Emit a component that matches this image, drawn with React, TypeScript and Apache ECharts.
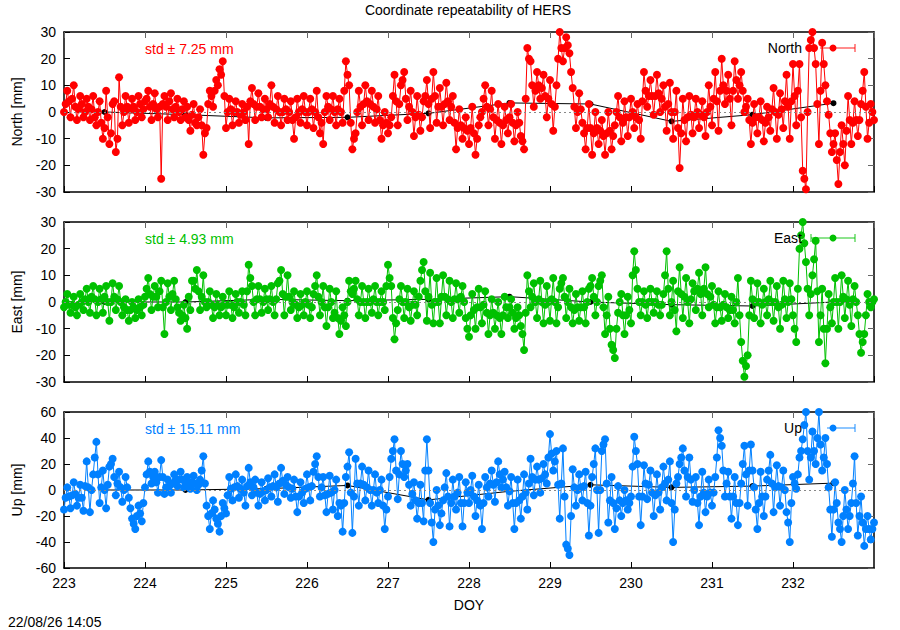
import React, { useEffect, useRef } from "react";
import * as echarts from "echarts";

// Sampling of the series: main samples every STEP_DAYS from START_DOY,
// intermediate samples ("...Mid") half a step later
const START_DOY = 223;
const STEP_DAYS = 0.04;

// North residuals [mm], 25 samples per day (DOY 223 .. 232) + DOY 233.0
const north: number[] = [
  0, 8, -2, 10, -3, 6, -2, 5, -3, 6, -5, 4, -10, 8, -12, 3, -15, 13, -5, 6, -4, 5, -3, 6, -2,
  4, 8, -3, 7, -2, -25, 6, -3, 7, -2, 5, -3, 4, 2, -7, 3, -5, 1, -16, -6, 8, 2, 12, 16, 19,
  -6, 5, -5, 4, -4, 3, -3, -12, 9, -3, 7, -2, 5, -2, 10, -4, 6, -5, 5, -3, 4, -10, 5, -4, 6,
  -5, 5, -6, 8, -8, -12, 6, -3, 6, -5, 5, -4, 19, 10, -14, -8, 8, -5, 10, -3, 8, -4, 6, -10, 0,
  -8, -2, 14, -5, 10, 15, -3, 8, -9, 6, -7, 4, 12, -6, 15, -4, 9, -5, 11, -3, 6, -14, 1, -10, -2,
  -12, 2, -16, -5, 0, 10, -5, 8, -10, 3, -12, 2, -8, 3, -11, 0, -9, -14, 24, 19, 2, 15, 5, 14, -2,
  12, -7, 10, 30, 19, 28, 22, 9, -6, 7, -4, -14, 3, -16, 0, -12, -3, -16, 0, -14, -5, 6, -11, 4, -9,
  5, -6, 3, -10, 15, 2, 12, -1, 14, 0, 10, -7, 11, -10, 8, -21, 5, -11, 6, -8, 5, -6, 4, -9, 10,
  -5, 15, -7, 20, 3, 14, -5, 19, 5, 15, 0, 5, -12, 3, -8, 4, -11, 2, -7, 9, -10, 7, -6, 14, -10,
  18, -5, 18, -22, -29, 24, 30, 18, -12, 26, 10, -1, -15, -8, -27, -5, -20, 6, -12, 4, -9, 3, 15, -10, 3,
  -3,
];
const northMid: number[] = [
  3, 4, 5, 2, 1, 3, 0, 2, 1, -2, 0, -4, -6, -2, -8, 4, -10, 2, 0, 2, 1, 2, 0, 3, 1,
  5, 2, 3, 1, 2, 3, 2, 4, 1, 2, 0, 1, -2, -3, -1, -4, -2, -5, -8, 3, 6, 8, 10, 14, 6,
  0, 1, 0, 0, -1, 0, 2, 4, 3, 2, 2, 1, 1, 3, 2, 1, 0, 0, 1, 0, -3, -2, 0, 1, 0,
  0, 1, 0, -2, -4, 0, 2, 1, 0, 1, 0, 8, 14, -4, -10, 0, 2, 3, 4, 3, 2, 1, -3, -5, -4,
  -5, 6, 4, 3, 12, 5, 2, 0, -2, -1, -2, 6, 3, 5, 6, 2, 2, 3, 4, 2, -4, -6, -5, -6, -7,
  -6, -8, -10, -2, 5, 2, 1, -2, -3, -4, -5, -3, -2, -4, -5, -4, -11, 5, 20, 10, 8, 10, 9, 6, 5,
  3, 2, 20, 24, 24, 25, 15, 2, 0, 1, -8, -6, -6, -8, -6, -7, -9, -8, -7, -9, 0, -2, -4, -2, -2,
  0, -2, -3, 4, 8, 6, 6, 6, 7, 5, 2, 3, 0, 0, -6, -8, -3, -2, -1, -2, 0, -1, -2, 0, 2,
  5, 4, 8, 10, 8, 5, 8, 12, 10, 8, 2, -3, -4, -2, -2, -3, -4, -2, 1, 0, -1, 1, 4, 2, 4,
  6, 8, -2, -25, 0, 27, 24, 3, 8, 18, 4, -8, -12, -18, -15, -12, -7, -3, -4, -3, -3, 8, 2, -4, 0,
];

// East residuals [mm]
const east: number[] = [
  -2, 3, -4, 2, -5, 3, -3, 5, -4, 6, -5, 5, -4, 6, -7, 7, -3, 6, -5, 1, -7, 0, -6, 1, -5,
  2, 9, -3, 6, -2, 8, -12, 7, -3, 8, -2, -7, -1, -10, -3, 8, 12, -3, 10, -2, 4, -6, 3, -5, 2,
  -5, 4, -6, 3, -4, 4, -5, 14, 6, -5, 6, -4, 5, -3, 6, -5, 7, 12, -5, 10, -3, 4, -6, 3, -5,
  4, -6, 3, 10, -5, 6, -9, 5, -6, 4, -12, -2, -9, 8, 3, 8, -5, 6, -6, 5, -4, 6, -5, 4, -3,
  14, 6, -14, -3, 6, -6, 5, -7, 4, -5, 8, 15, -7, 11, -8, 9, -8, 10, -5, 8, -6, 7, -4, 6, -6,
  -13, 3, -10, 5, -8, 4, -12, 1, -10, 0, -12, 2, -6, 1, -10, -2, -9, -18, 10, -2, 7, -6, 8, -8, 6,
  -7, 9, -8, 5, 9, -6, 5, -8, 3, -7, 4, -8, 5, 9, -5, 6, 10, -12, 2, -16, -21, -4, 3, -12, 2,
  -8, 19, 5, -5, 4, -6, 5, -4, 4, -5, 3, 19, -5, 8, -11, 13, -6, 9, -8, 7, -3, 11, -5, 13, -2,
  6, -8, 4, -7, 3, -6, 2, -8, 9, -15, -28, -20, 8, -6, 7, -8, 5, -5, 8, -7, 6, -10, 8, -6, 7,
  -5, -15, 20, 30, 15, -5, 10, 23, -15, 5, -23, 3, -8, 9, -10, 10, -6, 8, -9, 6, -5, -19, -12, 3, -2,
  1,
];
const eastMid: number[] = [
  0, -1, -1, -2, -1, 0, 1, 0, 2, 1, 0, 1, 2, 0, 0, 2, 1, 0, -2, -3, -3, -2, -3, -2, -1,
  5, 3, 2, 2, 4, -2, 0, 2, 3, 1, -4, -5, -6, 2, 8, 5, 4, 2, 0, 0, -1, -2, -1, -2, -1,
  -1, -1, -2, 0, 0, -1, 4, 9, 0, 1, 1, 0, 1, 1, 0, 1, 8, 3, 2, 2, 0, -1, -2, -1, 0,
  -1, -2, 6, 2, 0, -2, -2, 0, -4, -6, -7, -5, 0, 4, 5, 1, 0, 0, 0, 0, 1, 0, 0, 0, 6,
  9, -6, -8, 1, 0, 0, -2, -1, -1, 2, 12, 4, 2, -1, 0, 0, 2, 2, 1, 0, 1, 1, 2, 0, -10,
  -5, -3, -2, -2, -1, -4, -5, -4, -5, -6, -5, -2, -2, -4, -6, -5, -12, -4, 4, 2, 0, 1, 0, -1, 0,
  1, 0, -2, 7, 2, 0, -2, -3, -2, -2, -2, 0, 6, 2, 0, 8, -2, -5, -10, -18, -10, 0, -5, -5, -3,
  10, 12, 0, 0, -1, 0, 0, 0, -1, -1, 10, 5, 0, -3, 4, 3, 2, 0, 1, 4, 5, 3, 5, 3, 2,
  -1, -2, -2, -1, -2, -3, -3, 0, -5, -22, -24, -5, 1, 0, 0, -1, 0, 1, 0, 0, -2, -1, 1, 0, 1,
  -10, 5, 25, 22, 5, 3, 16, 4, -5, -10, -10, -2, 0, 0, 0, 2, 1, -1, 1, 0, -12, -15, -5, 0, 0,
];

// Up residuals [mm]
const up: number[] = [
  -15, 2, -14, 6, -12, 4, -16, 22, -17, 12, 37, -10, 15, -14, 18, 24, -4, 14, -9, 10, -6, -22, -30, -12, -24,
  2, 22, 5, 14, -2, 23, -3, 8, -2, 12, 3, 14, 2, 10, 1, 11, 0, 8, 26, -12, -30, -8, -22, -32, -10,
  -18, 10, -8, 12, -6, 8, -12, 17, -4, 8, -12, 6, -8, 9, -5, 12, -9, 17, -3, 10, -6, 8, -17, 6, -10,
  12, -8, 14, 26, -5, 10, -17, 11, -15, 8, -10, -32, 10, 29, -33, 24, -12, 18, -8, 15, -12, 12, -10, 8, -30,
  -5, 24, 39, -7, 30, 10, 20, -12, 6, -22, 4, -24, 39, -10, -40, 0, -27, -8, 13, -28, 8, -15, 10, -28, 6,
  -10, 11, -20, 4, -30, 10, -5, 15, -9, 22, 2, 14, -12, 10, -30, 8, -22, 12, -15, 24, -4, 18, -2, 20, 5,
  43, 15, 30, -22, 32, -42, -50, 16, -12, 12, -8, 14, -35, 10, 32, -33, 30, 39, -25, 10, -30, 3, -20, 0, -15,
  -5, 41, 20, -27, 19, -7, 15, -20, 12, -15, 18, -8, 22, -40, 5, 20, 32, -5, 25, -9, 10, -27, 14, -17, 8,
  -12, 10, 46, 34, -5, 14, -22, 10, -27, 5, 34, -12, 35, 2, -30, 14, -20, 8, 27, -17, 19, -12, 15, -17, -40,
  10, 1, 25, 39, 60, 8, 45, 20, 60, 15, 40, 2, -36, 6, -25, -40, 0, -30, -10, 26, -35, -5, -43, -20, -38,
  -25,
];
const upMid: number[] = [
  -6, -5, -4, -3, -6, -6, 3, 2, 0, 25, 12, 2, 0, 4, 20, 10, 5, 2, 0, 2, -14, -26, -20, -18, -10,
  12, 14, 10, 6, 10, 10, 2, 3, 5, 8, 8, 8, 6, 5, 6, 5, 4, 15, 5, -20, -18, -15, -26, -20, -14,
  -4, 1, 2, 3, 1, -2, 3, 6, 2, -2, -3, -1, 0, 2, 3, 2, 5, 7, 4, 2, 1, -5, -5, -2, 1,
  2, 3, 20, 10, 2, -4, -3, -2, 0, -20, -12, -10, 18, -2, -5, 5, 5, 4, 2, 0, 0, -2, 0, -12, -15,
  10, 30, 15, 12, 20, 15, 4, -3, -8, -10, -10, 15, 15, -25, -15, -12, -18, 2, -5, -10, -5, -2, -10, -10, -2,
  0, -5, -8, -12, -10, 2, 5, 4, 6, 12, 8, 2, -1, -10, -10, -8, -5, -2, 5, 10, 8, 8, 9, 12, 25,
  28, 22, 4, 5, -5, -45, -20, 2, 0, 2, 3, -10, -12, 20, 0, 0, 35, 5, -8, -10, -14, -8, -10, -8, -10,
  18, 30, -5, -5, 5, 4, -2, -4, -2, 2, 5, 8, -10, -15, 10, 25, 15, 10, 8, 0, -10, -5, -2, -5, -2,
  -2, 25, 40, 15, 5, -5, -5, -10, -10, 20, 12, 15, 15, -15, -10, -5, -5, 15, 5, 2, 3, 2, 0, -25, -10,
  5, 12, 30, 50, 30, 25, 30, 40, 35, 25, 20, -15, -15, -10, -30, -20, -15, -20, 5, -10, -20, -25, -30, -30, -30,
];

// Daily means (black line), plotted at mid-day
const meanDays: number[] = [223.5, 224.5, 225.5, 226.5, 227.5, 228.5, 229.5, 230.5, 231.5, 232.5];
const northMean: number[] = [0, -1, -2.2, -2, -0.5, 3.4, 3, -3.5, -1, 3.3];
const eastMean: number[] = [0, 0, 1, 0.5, 1, 2, 0, -1, -1.5, 0];
const upMean: number[] = [0, 0, 1, 3.5, -7.6, -1, 4, 2, 3, 5.3];

const panelNames = ["North", "East", "Up"];
const axisTitles = ["North [mm]", "East [mm]", "Up [mm]"];
const stdLabels = ["std \u00b1 7.25 mm", "std \u00b1 4.93 mm", "std \u00b1 15.11 mm"];
const yMins = [-30, -30, -60];
const yMaxs = [30, 30, 60];
const yIntervals = [10, 10, 20];

const FONT = "'Liberation Sans', Arial, Helvetica, sans-serif";
const COLORS = ["#ff0000", "#00c000", "#0080ff"];

function buildSeriesData(main: number[], mid: number[]): number[][] {
  const out: number[][] = [];
  main.forEach((v, k) => {
    out.push([START_DOY + k * STEP_DAYS, v]);
    if (k < mid.length) out.push([START_DOY + k * STEP_DAYS + STEP_DAYS / 2, mid[k]]);
  });
  return out;
}

export default function App() {
  const ref = useRef<HTMLDivElement>(null);

  useEffect(() => {
    if (!ref.current) return;
    const chart = echarts.init(ref.current, undefined, { renderer: "svg" });

    const seriesData = [buildSeriesData(north, northMid), buildSeriesData(east, eastMid), buildSeriesData(up, upMid)];
    const means = [northMean, eastMean, upMean];
    const grids = [
      { left: 64, top: 32, width: 810, height: 160 },
      { left: 64, top: 222, width: 810, height: 160 },
      { left: 64, top: 412, width: 810, height: 156 },
    ];

    const xAxes: any[] = [];
    const yAxes: any[] = [];
    const series: any[] = [];
    const graphics: any[] = [];

    grids.forEach((g, i) => {
      const isLast = i === grids.length - 1;
      const axLine = { show: true, onZero: false, lineStyle: { color: "#000", width: 1.5 } };
      xAxes.push({
        gridIndex: i,
        type: "value",
        min: 223,
        max: 233,
        interval: 1,
        position: "bottom",
        axisLine: axLine,
        axisTick: { show: true, inside: true, length: 6, lineStyle: { color: "#000" } },
        axisLabel: {
          show: isLast,
          color: "#000",
          fontSize: 14,
          fontFamily: FONT,
          margin: 8,
          showMaxLabel: false,
        },
        splitLine: { show: false },
        name: isLast ? "DOY" : "",
        nameLocation: "middle",
        nameGap: 30,
        nameTextStyle: { color: "#000", fontSize: 14, fontFamily: FONT },
      });
      xAxes.push({
        gridIndex: i,
        type: "value",
        min: 223,
        max: 233,
        interval: 1,
        position: "top",
        axisLine: axLine,
        axisTick: { show: true, inside: true, length: 6, lineStyle: { color: "#666" } },
        axisLabel: { show: false },
        splitLine: { show: false },
      });
      yAxes.push({
        gridIndex: i,
        type: "value",
        min: yMins[i],
        max: yMaxs[i],
        interval: yIntervals[i],
        position: "left",
        axisLine: axLine,
        axisTick: { show: true, inside: true, length: 6, lineStyle: { color: "#000" } },
        axisLabel: { color: "#000", fontSize: 14, fontFamily: FONT, margin: 8 },
        splitLine: { show: false },
        name: axisTitles[i],
        nameLocation: "middle",
        nameRotate: 90,
        nameGap: 40,
        nameTextStyle: { color: "#000", fontSize: 14, fontFamily: FONT },
      });
      yAxes.push({
        gridIndex: i,
        type: "value",
        min: yMins[i],
        max: yMaxs[i],
        interval: yIntervals[i],
        position: "right",
        axisLine: axLine,
        axisTick: { show: true, inside: true, length: 6, lineStyle: { color: "#666" } },
        axisLabel: { show: false },
        splitLine: { show: false },
      });

      // daily mean line with zero reference line
      series.push({
        type: "line",
        xAxisIndex: 2 * i,
        yAxisIndex: 2 * i,
        data: meanDays.map((d, k) => [d, means[i][k]]),
        symbol: "circle",
        symbolSize: 6,
        itemStyle: { color: "#000" },
        lineStyle: { color: "#000", width: 1 },
        silent: true,
        z: 2,
        markLine: {
          silent: true,
          symbol: ["none", "none"],
          label: { show: false },
          lineStyle: { color: "#888", type: [2, 3], width: 1 },
          data: [{ yAxis: 0 }],
        },
      });

      // residual series
      series.push({
        type: "line",
        xAxisIndex: 2 * i,
        yAxisIndex: 2 * i,
        data: seriesData[i],
        symbol: "circle",
        symbolSize: 8,
        showSymbol: true,
        clip: true,
        itemStyle: { color: COLORS[i] },
        lineStyle: { color: COLORS[i], width: 1 },
        silent: true,
        z: 3,
      });

      const midY = g.top + 17;
      graphics.push({
        type: "text",
        x: 145,
        y: midY,
        style: {
          text: stdLabels[i],
          fill: COLORS[i],
          fontSize: 14,
          fontFamily: FONT,
          align: "left",
          verticalAlign: "middle",
        },
        z: 10,
      });

      // legend sample
      const ly = g.top + 16;
      const lx1 = i === 0 ? 820 : i === 1 ? 811 : 827;
      graphics.push({
        type: "text",
        x: 802,
        y: ly,
        style: {
          text: panelNames[i],
          fill: "#000",
          fontSize: 14,
          fontFamily: FONT,
          align: "right",
          verticalAlign: "middle",
        },
        z: 10,
      });
      graphics.push({
        type: "line",
        shape: { x1: lx1, y1: ly, x2: 855, y2: ly },
        style: { stroke: COLORS[i], lineWidth: 1.5, opacity: 0.6 },
        z: 10,
      });
      graphics.push({
        type: "line",
        shape: { x1: 855, y1: ly - 4, x2: 855, y2: ly + 4 },
        style: { stroke: COLORS[i], lineWidth: 1.5, opacity: 0.6 },
        z: 10,
      });
      if (i === 1) {
        graphics.push({
          type: "line",
          shape: { x1: lx1, y1: ly - 4, x2: lx1, y2: ly + 4 },
          style: { stroke: COLORS[i], lineWidth: 1.5, opacity: 0.6 },
          z: 10,
        });
      }
      graphics.push({
        type: "circle",
        shape: { cx: 833, cy: ly, r: 3.5 },
        style: { fill: COLORS[i] },
        z: 11,
      });
    });

    graphics.push({
      type: "text",
      x: 468,
      y: 10,
      style: {
        text: "Coordinate repeatability of HERS",
        fill: "#000",
        fontSize: 14,
        fontFamily: FONT,
        align: "center",
        verticalAlign: "middle",
      },
    });
    graphics.push({
      type: "text",
      x: 8,
      y: 622,
      style: {
        text: "22/08/26 14:05",
        fill: "#000",
        fontSize: 14,
        fontFamily: FONT,
        align: "left",
        verticalAlign: "middle",
      },
    });

    chart.setOption({
      animation: false,
      backgroundColor: "#fff",
      grid: grids.map((g) => ({ ...g, containLabel: false })),
      xAxis: xAxes,
      yAxis: yAxes,
      series,
      graphic: graphics,
    });

    return () => chart.dispose();
  }, []);

  return (
    <div
      ref={ref}
      style={{ position: "fixed", left: 0, top: 0, width: 900, height: 630, background: "#fff" }}
    />
  );
}
